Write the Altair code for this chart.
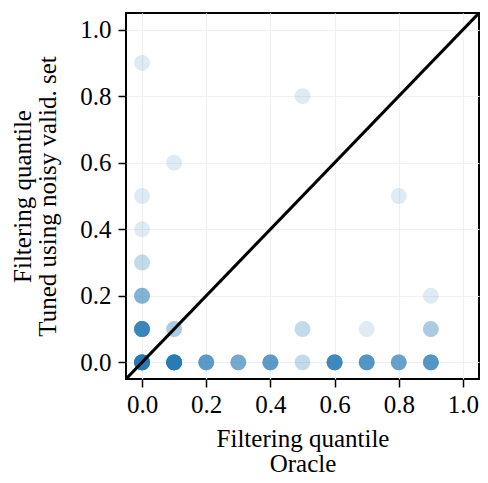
import altair as alt
import pandas as pd

# points: oracle quantile (x), tuned quantile (y), number of overlapping runs
xs = [0.0, 0.5, 0.1, 0.8, 0.0, 0.0, 0.0, 0.0, 0.9, 0.0, 0.1, 0.5, 0.7, 0.9,
      0.0, 0.1, 0.2, 0.3, 0.4, 0.5, 0.6, 0.7, 0.8, 0.9]
ys = [0.9, 0.8, 0.6, 0.5, 0.5, 0.4, 0.3, 0.2, 0.2, 0.1, 0.1, 0.1, 0.1, 0.1,
      0.0, 0.0, 0.0, 0.0, 0.0, 0.0, 0.0, 0.0, 0.0, 0.0]
counts = [1, 1, 1, 1, 1, 1, 2, 5, 1, 13, 3, 2, 1, 3,
          22, 20, 8, 6, 8, 2, 12, 9, 7, 9]

diag_vals = [-0.05, 1.05]
x_ticks = [0.0, 0.2, 0.4, 0.6, 0.8, 1.0]
y_ticks = [0.0, 0.2, 0.4, 0.6, 0.8, 1.0]

rows = []
for x, y, c in zip(xs, ys, counts):
    for _ in range(c):
        rows.append({"oracle": x, "tuned": y})
pts = pd.DataFrame(rows)
diag = pd.DataFrame({"oracle": diag_vals, "tuned": diag_vals})

FONT = "Liberation Serif"
xscale = alt.Scale(domain=[-0.05, 1.05], nice=False, zero=False)
yscale = alt.Scale(domain=[-0.05, 1.05], nice=False, zero=False)

common = dict(grid=True, gridColor="#f0f0f0", gridWidth=1.2,
              domain=False, tickColor="black", tickWidth=1.5, tickSize=8,
              labelFont=FONT, titleFont=FONT,
              labelFontSize=25, titleFontSize=25, titleFontWeight="normal",
              labelColor="black", titleColor="black", titleLineHeight=25)

xaxis = alt.Axis(values=x_ticks, format=".1f", title=["Filtering quantile", "Oracle"],
                 labelPadding=5, titlePadding=9, **common)
yaxis = alt.Axis(values=y_ticks, format=".1f",
                 title=["Filtering quantile", "Tuned using noisy valid. set"],
                 labelPadding=7, titlePadding=19, **common)

points = alt.Chart(pts).mark_circle(size=254, opacity=0.15, color="#1f77b4").encode(
    x=alt.X("oracle:Q", scale=xscale, axis=xaxis),
    y=alt.Y("tuned:Q", scale=yscale, axis=yaxis),
)
line = alt.Chart(diag).mark_line(color="black", strokeWidth=3, clip=True).encode(
    x=alt.X("oracle:Q", scale=xscale),
    y=alt.Y("tuned:Q", scale=yscale),
)

chart = (points + line).properties(
    width=353, height=366,
    autosize=alt.AutoSizeParams(type="none"),
    padding={"left": 118, "top": 5, "right": 1, "bottom": 96},
    background="white",
).configure_view(stroke="black", strokeWidth=2)

chart.save("out.html", embed_options={"renderer": "svg", "actions": False})
